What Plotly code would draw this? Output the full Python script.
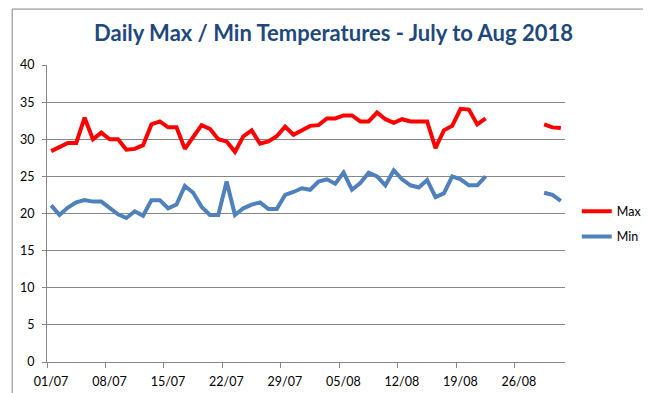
import pandas as pd
import plotly.graph_objects as go

# ---- data ----
dates = [d.strftime("%Y-%m-%d 12:00") for d in pd.date_range("2018-07-01", "2018-08-31", freq="D")]
max_temp = [28.4, 29.0, 29.5, 29.5, 32.9, 30.0, 30.9, 30.0, 30.0, 28.6,
            28.7, 29.2, 32.0, 32.4, 31.6, 31.6, 28.7, 30.3, 31.9, 31.4,
            30.0, 29.7, 28.3, 30.4, 31.2, 29.4, 29.7, 30.4, 31.7, 30.6,
            31.2, 31.8, 31.9, 32.8, 32.8, 33.2, 33.2, 32.4, 32.4, 33.6,
            32.7, 32.2, 32.7, 32.4, 32.4, 32.4, 28.8, 31.2, 31.8, 34.1,
            34.0, 32.0, 32.8, None, None, None, None, None, None, 32.0,
            31.6, 31.5]
min_temp = [21.1, 19.8, 20.8, 21.5, 21.8, 21.6, 21.6, 20.7, 19.9, 19.4,
            20.3, 19.7, 21.8, 21.8, 20.7, 21.2, 23.7, 22.8, 20.9, 19.8,
            19.8, 24.3, 19.8, 20.7, 21.2, 21.5, 20.6, 20.6, 22.5, 22.9,
            23.4, 23.2, 24.3, 24.6, 24.0, 25.5, 23.2, 24.1, 25.5, 25.0,
            23.8, 25.8, 24.6, 23.8, 23.5, 24.5, 22.2, 22.7, 25.0, 24.6,
            23.8, 23.8, 25.0, None, None, None, None, None, None, 22.8,
            22.5, 21.7]
tick_dates = ["2018-07-01", "2018-07-08", "2018-07-15", "2018-07-22", "2018-07-29",
              "2018-08-05", "2018-08-12", "2018-08-19", "2018-08-26"]
tick_labels = ["01/07", "08/07", "15/07", "22/07", "29/07", "05/08", "12/08", "19/08", "26/08"]
title_text = "Daily Max / Min Temperatures - July to Aug 2018"

W, H = 651, 393
L, R, T, B = 36, 87, 57, 36
FONT = "Lato"
GRID = "#868686"
FS = 12.5

fig = go.Figure()
fig.add_trace(go.Scatter(x=dates, y=max_temp, mode="lines", name="Max",
                         line=dict(color="#FF0000", width=4), connectgaps=False,
                         legendgroup="a"))
fig.add_trace(go.Scatter(x=dates, y=min_temp, mode="lines", name="Min",
                         line=dict(color="#4F81BD", width=4), connectgaps=False,
                         legendgroup="b"))

pw = W - L - R
ph = H - T - B
def px_x(p):
    return (p - L) / pw
def px_y(p):
    return (H - B - p) / ph

fig.add_shape(type="rect", xref="paper", yref="paper",
              x0=px_x(0.5), x1=px_x(W - 1.5), y0=px_y(H - 1.5), y1=px_y(0.5),
              line=dict(color=GRID, width=1), layer="below")

fig.update_layout(
    width=W, height=H,
    margin=dict(l=L, r=R, t=T, b=B),
    paper_bgcolor="white", plot_bgcolor="white",
    title=dict(text=title_text, x=0.5, xref="container", xanchor="center",
               y=1 - 25 / H, yref="container", yanchor="middle",
               font=dict(family=FONT, size=22, color="#1F497D", weight="bold")),
    font=dict(family=FONT, size=FS, color="#000000"),
    legend=dict(x=px_x(576), xanchor="left", y=px_y(190), yanchor="top",
                font=dict(family=FONT, size=FS, color="#000000"),
                tracegroupgap=6, bgcolor="rgba(0,0,0,0)"),
    showlegend=True,
)
fig.update_xaxes(type="date", range=["2018-07-01", "2018-09-01"],
                 tickvals=tick_dates, ticktext=tick_labels,
                 ticklabelshift=4, ticklabelstandoff=3,
                 showgrid=False, showline=True, linecolor=GRID, linewidth=1,
                 ticks="outside", ticklen=5, tickcolor=GRID, zeroline=False,
                 tickfont=dict(family=FONT, size=FS, color="#000000"))
fig.update_yaxes(range=[0, 40], dtick=5, tick0=0,
                 ticklabelstandoff=5,
                 showgrid=True, gridcolor=GRID, gridwidth=1,
                 showline=True, linecolor=GRID, linewidth=1,
                 ticks="outside", ticklen=4, tickcolor=GRID, zeroline=False,
                 tickfont=dict(family=FONT, size=FS, color="#000000"))

fig.write_html("out.html")
